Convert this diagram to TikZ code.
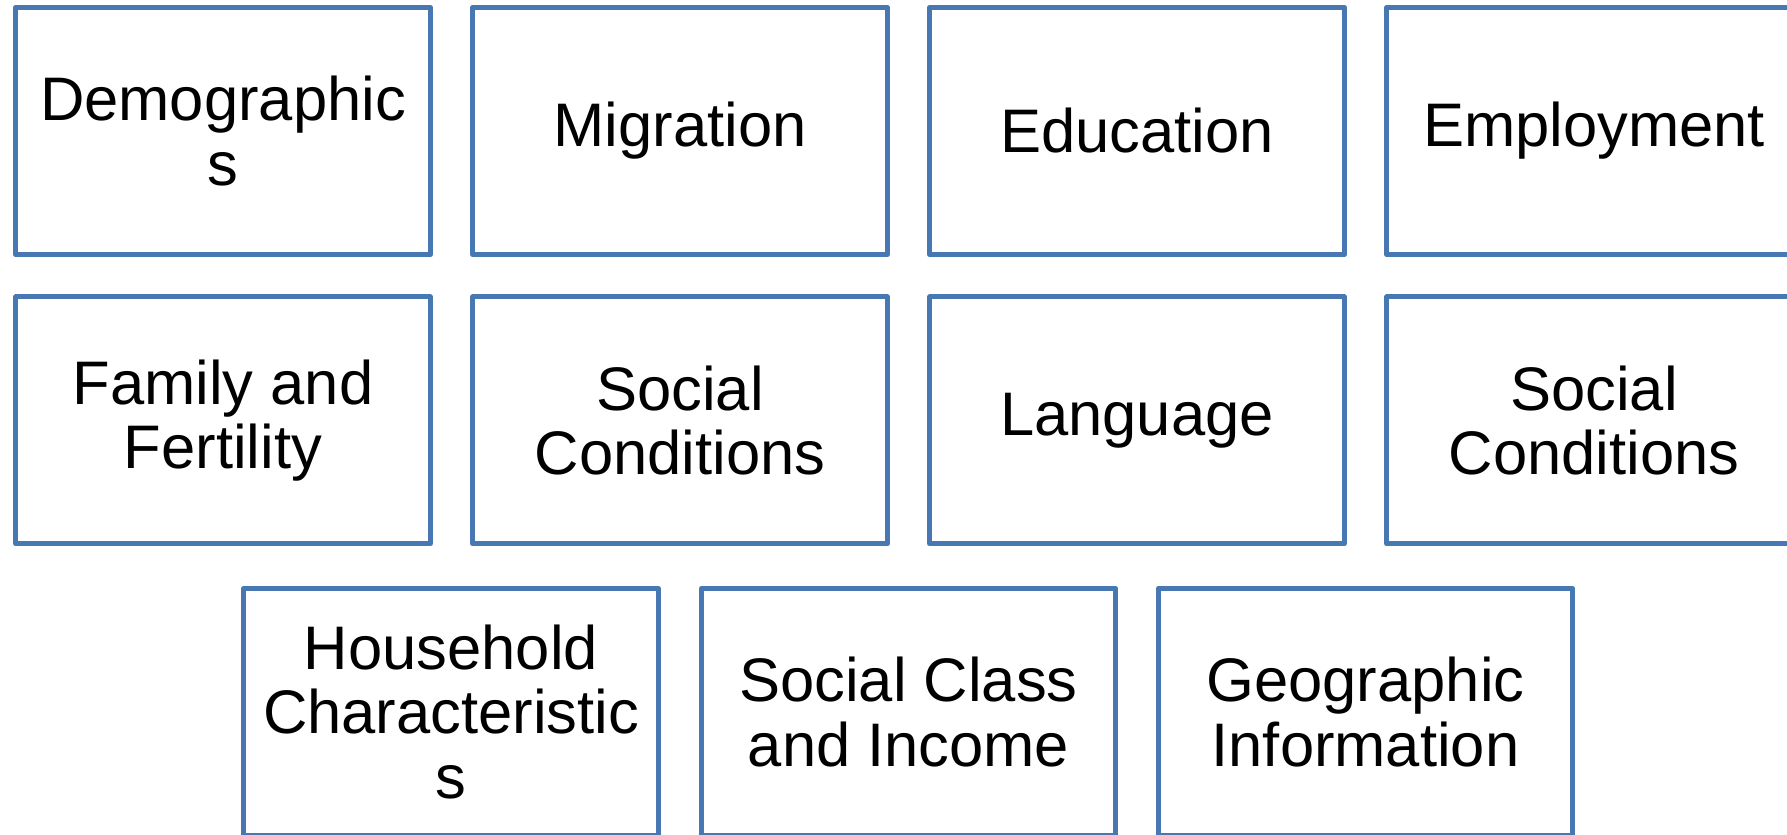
\documentclass[tikz,border=0pt]{standalone}
\usepackage{fontspec}
\setmainfont{Liberation Sans}
\usepackage{tikz}
\definecolor{boxblue}{RGB}{72,120,178}
\tikzstyle{topic} = [draw=boxblue, line width=0.1cm, line join=round, rectangle, minimum width=8.29cm, minimum height=4.94cm, align=center, inner sep=0pt, font=\fontsize{35}{36.5}\selectfont]

\begin{document}
\begin{tikzpicture}
	\useasboundingbox (0,0) rectangle (35.74,16.68);
	\clip (0,0) rectangle (35.74,16.68);

	% ------------------- First row ------------------- %
	\node[topic] (demog) at (4.46cm,14.06cm) {Demographic\\s};
	\node[topic] (migr) at (13.6cm,14.06cm) {Migration};
	\node[topic] (educ) at (22.74cm,14.06cm) {Education};
	\node[topic] (employ) at (31.88cm,14.06cm) {Employment};

	% ------------------- Second row ------------------- %
	\node[topic] (family) at (4.46cm,8.27cm) {Family and\\Fertility};
	\node[topic] (socialA) at (13.6cm,8.27cm) {Social\\Conditions};
	\node[topic] (lang) at (22.74cm,8.27cm) {Language};
	\node[topic] (socialB) at (31.88cm,8.27cm) {Social\\Conditions};

	% ------------------- Third row (shifted) ------------------- %
	\node[topic] (household) at (9.02cm,2.44cm) {Household\\Characteristic\\s};
	\node[topic] (socclass) at (18.17cm,2.44cm) {Social Class\\and Income};
	\node[topic] (geo) at (27.31cm,2.44cm) {Geographic\\Information};
\end{tikzpicture}
\end{document}
